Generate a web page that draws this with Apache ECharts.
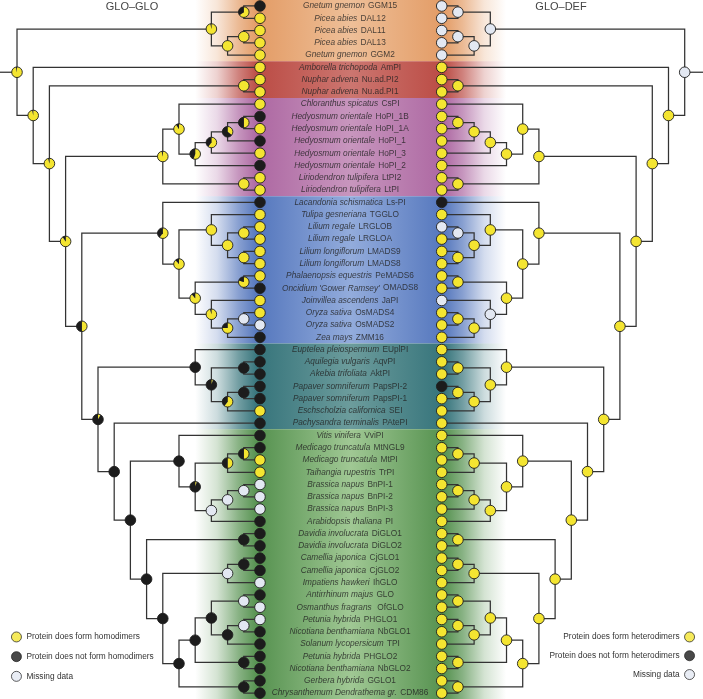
<!DOCTYPE html>
<html><head><meta charset="utf-8">
<script src="https://cdn.jsdelivr.net/npm/echarts@6/dist/echarts.min.js"></script>
<style>html,body{margin:0;padding:0;background:#fff}#c{width:703px;height:699px}</style>
</head><body><div id="c"></div>
<script>
// ---------------- DATA ----------------
const species = ['Gnetum gnemon','Picea abies','Picea abies','Picea abies','Gnetum gnemon',
 'Amborella trichopoda','Nuphar advena','Nuphar advena',
 'Chloranthus spicatus','Hedyosmum orientale','Hedyosmum orientale','Hedyosmum orientale','Hedyosmum orientale','Hedyosmum orientale','Liriodendron tulipifera','Liriodendron tulipifera',
 'Lacandonia schismatica','Tulipa gesneriana','Lilium regale','Lilium regale','Lilium longiflorum','Lilium longiflorum','Phalaenopsis equestris',"Oncidium 'Gower Ramsey'",'Joinvillea ascendens','Oryza sativa','Oryza sativa','Zea mays',
 'Euptelea pleiospermum','Aquilegia vulgaris','Akebia trifoliata','Papaver somniferum','Papaver somniferum','Eschscholzia californica','Pachysandra terminalis',
 'Vitis vinifera','Medicago truncatula','Medicago truncatula','Taihangia rupestris','Brassica napus','Brassica napus','Brassica napus','Arabidopsis thaliana',
 'Davidia involucrata','Davidia involucrata','Camellia japonica','Camellia japonica','Impatiens hawkeri','Antirrhinum majus','Osmanthus fragrans','Petunia hybrida','Nicotiana benthamiana','Solanum lycopersicum','Petunia hybrida','Nicotiana benthamiana','Gerbera hybrida','Chrysanthemum Dendrathema gr.'];
const genes = ['GGM15','DAL12','DAL11','DAL13','GGM2',
 'AmPI','Nu.ad.PI2','Nu.ad.PI1',
 'CsPI','HoPI_1B','HoPI_1A','HoPI_1','HoPI_3','HoPI_2','LtPI2','LtPI',
 'Ls-PI','TGGLO','LRGLOB','LRGLOA','LMADS9','LMADS8','PeMADS6','OMADS8','JaPI','OsMADS4','OsMADS2','ZMM16',
 'EUplPI','AqvPI','AktPI','PapsPI-2','PapsPI-1','SEI','PAtePI',
 'VviPI','MtNGL9','MtPI','TrPI','BnPI-1','BnPI-2','BnPI-3','PI',
 'DiGLO1','DiGLO2','CjGLO1','CjGLO2','IhGLO','GLO',' OfGLO','PHGLO1','NbGLO1','TPI','PHGLO2','NbGLO2','GGLO1','CDM86'];

// tree topology (leaf = row index)
const cladeGymno = [[0,1],[[2,3],4]];
const cladeMagnoliids = [[8,[[[[9,10],11],12],13]],[14,15]];
const cladeMonocots = [16,[[17,[[18,19],[20,21]]],[[22,23],[24,[[25,26],27]]]]];
const cladeBasalEudicots = [28,[[29,30],[[31,32],33]]];
const cladeRosids = [35,[[[36,37],38],[[[39,40],41],42]]];
const cladeAsterids = [[43,44],[[[45,46],47],[[[[48,49],[[50,51],52]],[53,54]],[55,56]]]];
const tree = [cladeGymno,[5,[[6,7],[cladeMagnoliids,[cladeMonocots,[cladeBasalEudicots,[34,[cladeRosids,cladeAsterids]]]]]]]];

// leaf states: share of "does not form" (black); null = missing data
const homoLeaf = [1,0,0,0,0, 0,0,0, 0,1,0,1,0,1,0,0, 1,0,0,0,0,0,0,1,0,0,null,1, 1,1,1,1,1,0,1, 1,1,0,0,null,null,null,1, 1,1,1,1,null,1,null,null,1,1,1,1,1,1];
const heteroLeaf = [null,null,null,null,null, 0,0,0, 0,0,0,0,0,0,0,0, 1,0,null,0,0,0,0,0,null,0,0,0, 0,0,0,1,0,0,0, 0,0,0,0,0,0,0,0, 0,0,0,0,0,0,0,0,0,0,0,0,0,0];

// internal nodes identified by the leaf range they span
const nodeRanges = ['0-56','0-4','0-1','2-4','2-3','5-56','6-56','6-7','8-56','8-15','8-13','9-13','9-12','9-11','9-10','14-15','16-56','16-27','17-27','17-21','18-21','18-19','20-21','22-27','22-23','24-27','25-27','25-26','28-56','28-33','29-33','29-30','31-33','31-32','34-56','35-56','35-42','36-42','36-38','36-37','39-42','39-41','39-40','43-56','43-44','45-56','45-47','45-46','48-56','48-54','48-52','48-49','50-52','50-51','53-54','55-56'];
const homoNode = [0.03,0.03,0.35,0,0,0.03,0.04,0,0.1,0.04,0.1,0.45,0.4,0.65,0.5,0,0.5,0.4,0.12,0,0,0,0,0.12,0.2,0.04,0.25,null,0.92,1,0.95,1,0.4,1,1,1,1,0.95,0.5,0.5,null,null,null,1,1,1,null,1,1,1,1,null,1,null,1,1];
const heteroNode = [null,null,null,null,null,0,0,0,0,0,0,0,0,0,0,0,0,0,0,0,0,null,0,0,0,null,0,0,0,0,0,0,0,0,0,0,0,0,0,0,0,0,0,0,0,0,0,0,0,0,0,0,0,0,0,0];

// coloured clade bands (first row, last row)
const bandRows = [[0,4],[5,7],[8,15],[16,27],[28,34],[35,56]];
const bandDark = ['#e39c66','#bb4c45','#ad68a2','#5577bd','#36747b','#55914f'];
const bandLight = ['#eebf98','#cc7670','#c896be','#93acdc','#6c9c9c','#a0c894'];

const legendHomo = ['Protein does form homodimers','Protein does not form homodimers','Missing data'];
const legendHetero = ['Protein does form heterodimers','Protein does not form heterodimers','Missing data'];
const titles = ['GLO–GLO','GLO–DEF'];

// ---------------- STYLE / LAYOUT ----------------
const YELLOW = '#f4e531', BLACK = '#1c1c1c', MISS = '#e3e8f2', BORDER = '#1e1e1e', EDGE = '#333333';
const FONT = 'Liberation Sans, Arial, sans-serif';
const X_MIN = -16.05, X_MAX = 27.35, RIGHT_LEAF = 11.22, LABEL_X = 5.56;
const Y_MIN = -0.489, Y_MAX = 56.48;
const BAND_L = -4.0, BAND_R = 15.2;
const R = 5.3;

// ---------------- TREE LAYOUT ----------------
const nodes = [];
function build(t){
  if (typeof t === 'number') return {leaf:true, lo:t, hi:t, h:0, y:t};
  const ch = t.map(build);
  const n = {leaf:false, lo:ch[0].lo, hi:ch[ch.length-1].hi,
    h: Math.max.apply(null, ch.map(c=>c.h)) + 1,
    y: (ch[0].y + ch[ch.length-1].y)/2, children: ch};
  nodes.push(n);
  return n;
}
const root = build(tree);
const xOf = (side, h) => side === 'L' ? -h : RIGHT_LEAF + h;
function nodeState(n, side){
  const k = nodeRanges.indexOf(n.lo + '-' + n.hi);
  return side === 'L' ? homoNode[k] : heteroNode[k];
}

function edgeSeries(side){
  return {
    type:'custom', z:3, silent:true,
    data: nodes.map(n => [xOf(side, n.h), n.y]),
    encode:{x:0, y:1},
    renderItem: function(params, api){
      const n = nodes[params.dataIndex];
      const xn = xOf(side, n.h);
      const c0 = n.children[0], c1 = n.children[n.children.length-1];
      const pts = [api.coord([xOf(side,c0.h), c0.y]), api.coord([xn, c0.y]), api.coord([xn, c1.y]), api.coord([xOf(side,c1.h), c1.y])];
      const ch = [{type:'polyline', shape:{points:pts}, style:{stroke:EDGE, lineWidth:1.25, fill:null}}];
      if (n === root){
        const a = api.coord([xn, n.y]), b = api.coord([side === 'L' ? X_MIN : X_MAX, n.y]);
        ch.push({type:'line', shape:{x1:a[0], y1:a[1], x2:b[0], y2:b[1]}, style:{stroke:EDGE, lineWidth:1.25}});
      }
      return {type:'group', children:ch};
    }
  };
}

function pieShapes(c, black){
  const cx = c[0], cy = c[1];
  if (black === null || black === undefined)
    return [{type:'circle', shape:{cx, cy, r:R}, style:{fill:MISS, stroke:BORDER, lineWidth:0.9}}];
  const out = [];
  if (black <= 0 || black >= 1){
    out.push({type:'circle', shape:{cx, cy, r:R}, style:{fill: black >= 1 ? BLACK : YELLOW, stroke:BORDER, lineWidth:0.9}});
    return out;
  }
  const a0 = -Math.PI/2, split = a0 + 2*Math.PI*(1-black);
  out.push({type:'sector', shape:{cx, cy, r:R, r0:0, startAngle:a0, endAngle:split, clockwise:true}, style:{fill:YELLOW}});
  out.push({type:'sector', shape:{cx, cy, r:R, r0:0, startAngle:split, endAngle:a0 + 2*Math.PI, clockwise:true}, style:{fill:BLACK}});
  out.push({type:'circle', shape:{cx, cy, r:R}, style:{fill:null, stroke:BORDER, lineWidth:0.9}});
  return out;
}

function pieSeries(side){
  const items = [];
  const leaves = side === 'L' ? homoLeaf : heteroLeaf;
  leaves.forEach((v, i) => items.push({x:xOf(side,0), y:i, v:v}));
  nodes.forEach(n => items.push({x:xOf(side,n.h), y:n.y, v:nodeState(n, side)}));
  return {
    type:'custom', z:4, silent:true,
    data: items.map(d => [d.x, d.y]),
    encode:{x:0, y:1},
    renderItem: function(params, api){
      const d = items[params.dataIndex];
      return {type:'group', children: pieShapes(api.coord([d.x, d.y]), d.v)};
    }
  };
}

function hexA(hex, a){
  const r = parseInt(hex.slice(1,3),16), g = parseInt(hex.slice(3,5),16), b = parseInt(hex.slice(5,7),16);
  return 'rgba(' + r + ',' + g + ',' + b + ',' + a + ')';
}

const bandSeries = {
  type:'custom', z:1, silent:true,
  data: bandRows.map(b => [BAND_L, b[0]]),
  encode:{x:0, y:1},
  renderItem: function(params, api){
    const i = params.dataIndex, b = bandRows[i];
    const top = i === 0 ? Y_MIN : b[0] - 0.5;
    const bot = i === bandRows.length-1 ? Y_MAX : b[1] + 0.5;
    const p0 = api.coord([BAND_L, top]), p1 = api.coord([BAND_R, bot]);
    const d = bandDark[i], l = bandLight[i];
    const grad = new echarts.graphic.LinearGradient(0,0,1,0,[
      {offset:0, color:hexA(d,0)}, {offset:0.07, color:hexA(d,0.25)}, {offset:0.14, color:hexA(d,0.7)}, {offset:0.2, color:d},
      {offset:0.5, color:l}, {offset:0.8, color:d}, {offset:0.86, color:hexA(d,0.7)}, {offset:0.93, color:hexA(d,0.25)}, {offset:1, color:hexA(d,0)}]);
    return {type:'rect', shape:{x:p0[0], y:p0[1], width:p1[0]-p0[0], height:p1[1]-p0[1]}, style:{fill:grad}};
  }
};

const labelSeries = {
  type:'scatter', z:5, silent:true, symbolSize:0.1,
  itemStyle:{color:'rgba(0,0,0,0)'},
  data: species.map((s,i) => [LABEL_X, i]),
  label:{show:true, position:'inside',
    formatter: p => '{i|' + species[p.dataIndex] + '} {n|' + genes[p.dataIndex] + '}',
    rich:{i:{fontStyle:'italic', fontSize:8.3, color:'#222', fontFamily:FONT},
          n:{fontSize:8.3, color:'#222', fontFamily:FONT}}}
};

const legendColors = [YELLOW, BLACK, MISS];
const dummy = [];
const seen = {};
legendHomo.concat(legendHetero).forEach((name, k) => {
  if (seen[name]) return; seen[name] = 1;
  dummy.push({type:'scatter', name:name, data:[], itemStyle:{color:legendColors[k % 3], borderColor:BORDER, borderWidth:0.9}});
});

const legStyle = {icon:'circle', itemWidth:10, itemHeight:10, padding:0, selectedMode:false,
  itemStyle:{borderColor:BORDER, borderWidth:0.9},
  textStyle:{fontSize:8.3, color:'#333', fontFamily:FONT}};
const legends = [Object.assign({}, legStyle, {data:legendHomo, orient:'vertical', left:11, top:631.5, itemGap:8.8})];
legendHetero.forEach((name, k) => {
  legends.push(Object.assign({}, legStyle, {data:[name], orient:'vertical', right:8, top:631.5 + k*18.8, align:'right'}));
});

const chart = echarts.init(document.getElementById('c'));
chart.setOption({
  animation:false,
  backgroundColor:'#fff',
  title: [
    {text:titles[0], left:132, top:1, textAlign:'center', padding:0, textStyle:{fontSize:11, fontWeight:'normal', color:'#444', fontFamily:FONT}},
    {text:titles[1], left:561, top:1, textAlign:'center', padding:0, textStyle:{fontSize:11, fontWeight:'normal', color:'#444', fontFamily:FONT}}
  ],
  legend: legends,
  grid:{left:0, right:0, top:0, bottom:0},
  xAxis:{type:'value', min:X_MIN, max:X_MAX, show:false},
  yAxis:{type:'value', min:Y_MIN, max:Y_MAX, inverse:true, show:false},
  series:[bandSeries, edgeSeries('L'), edgeSeries('R'), pieSeries('L'), pieSeries('R'), labelSeries].concat(dummy)
});
</script></body></html>
